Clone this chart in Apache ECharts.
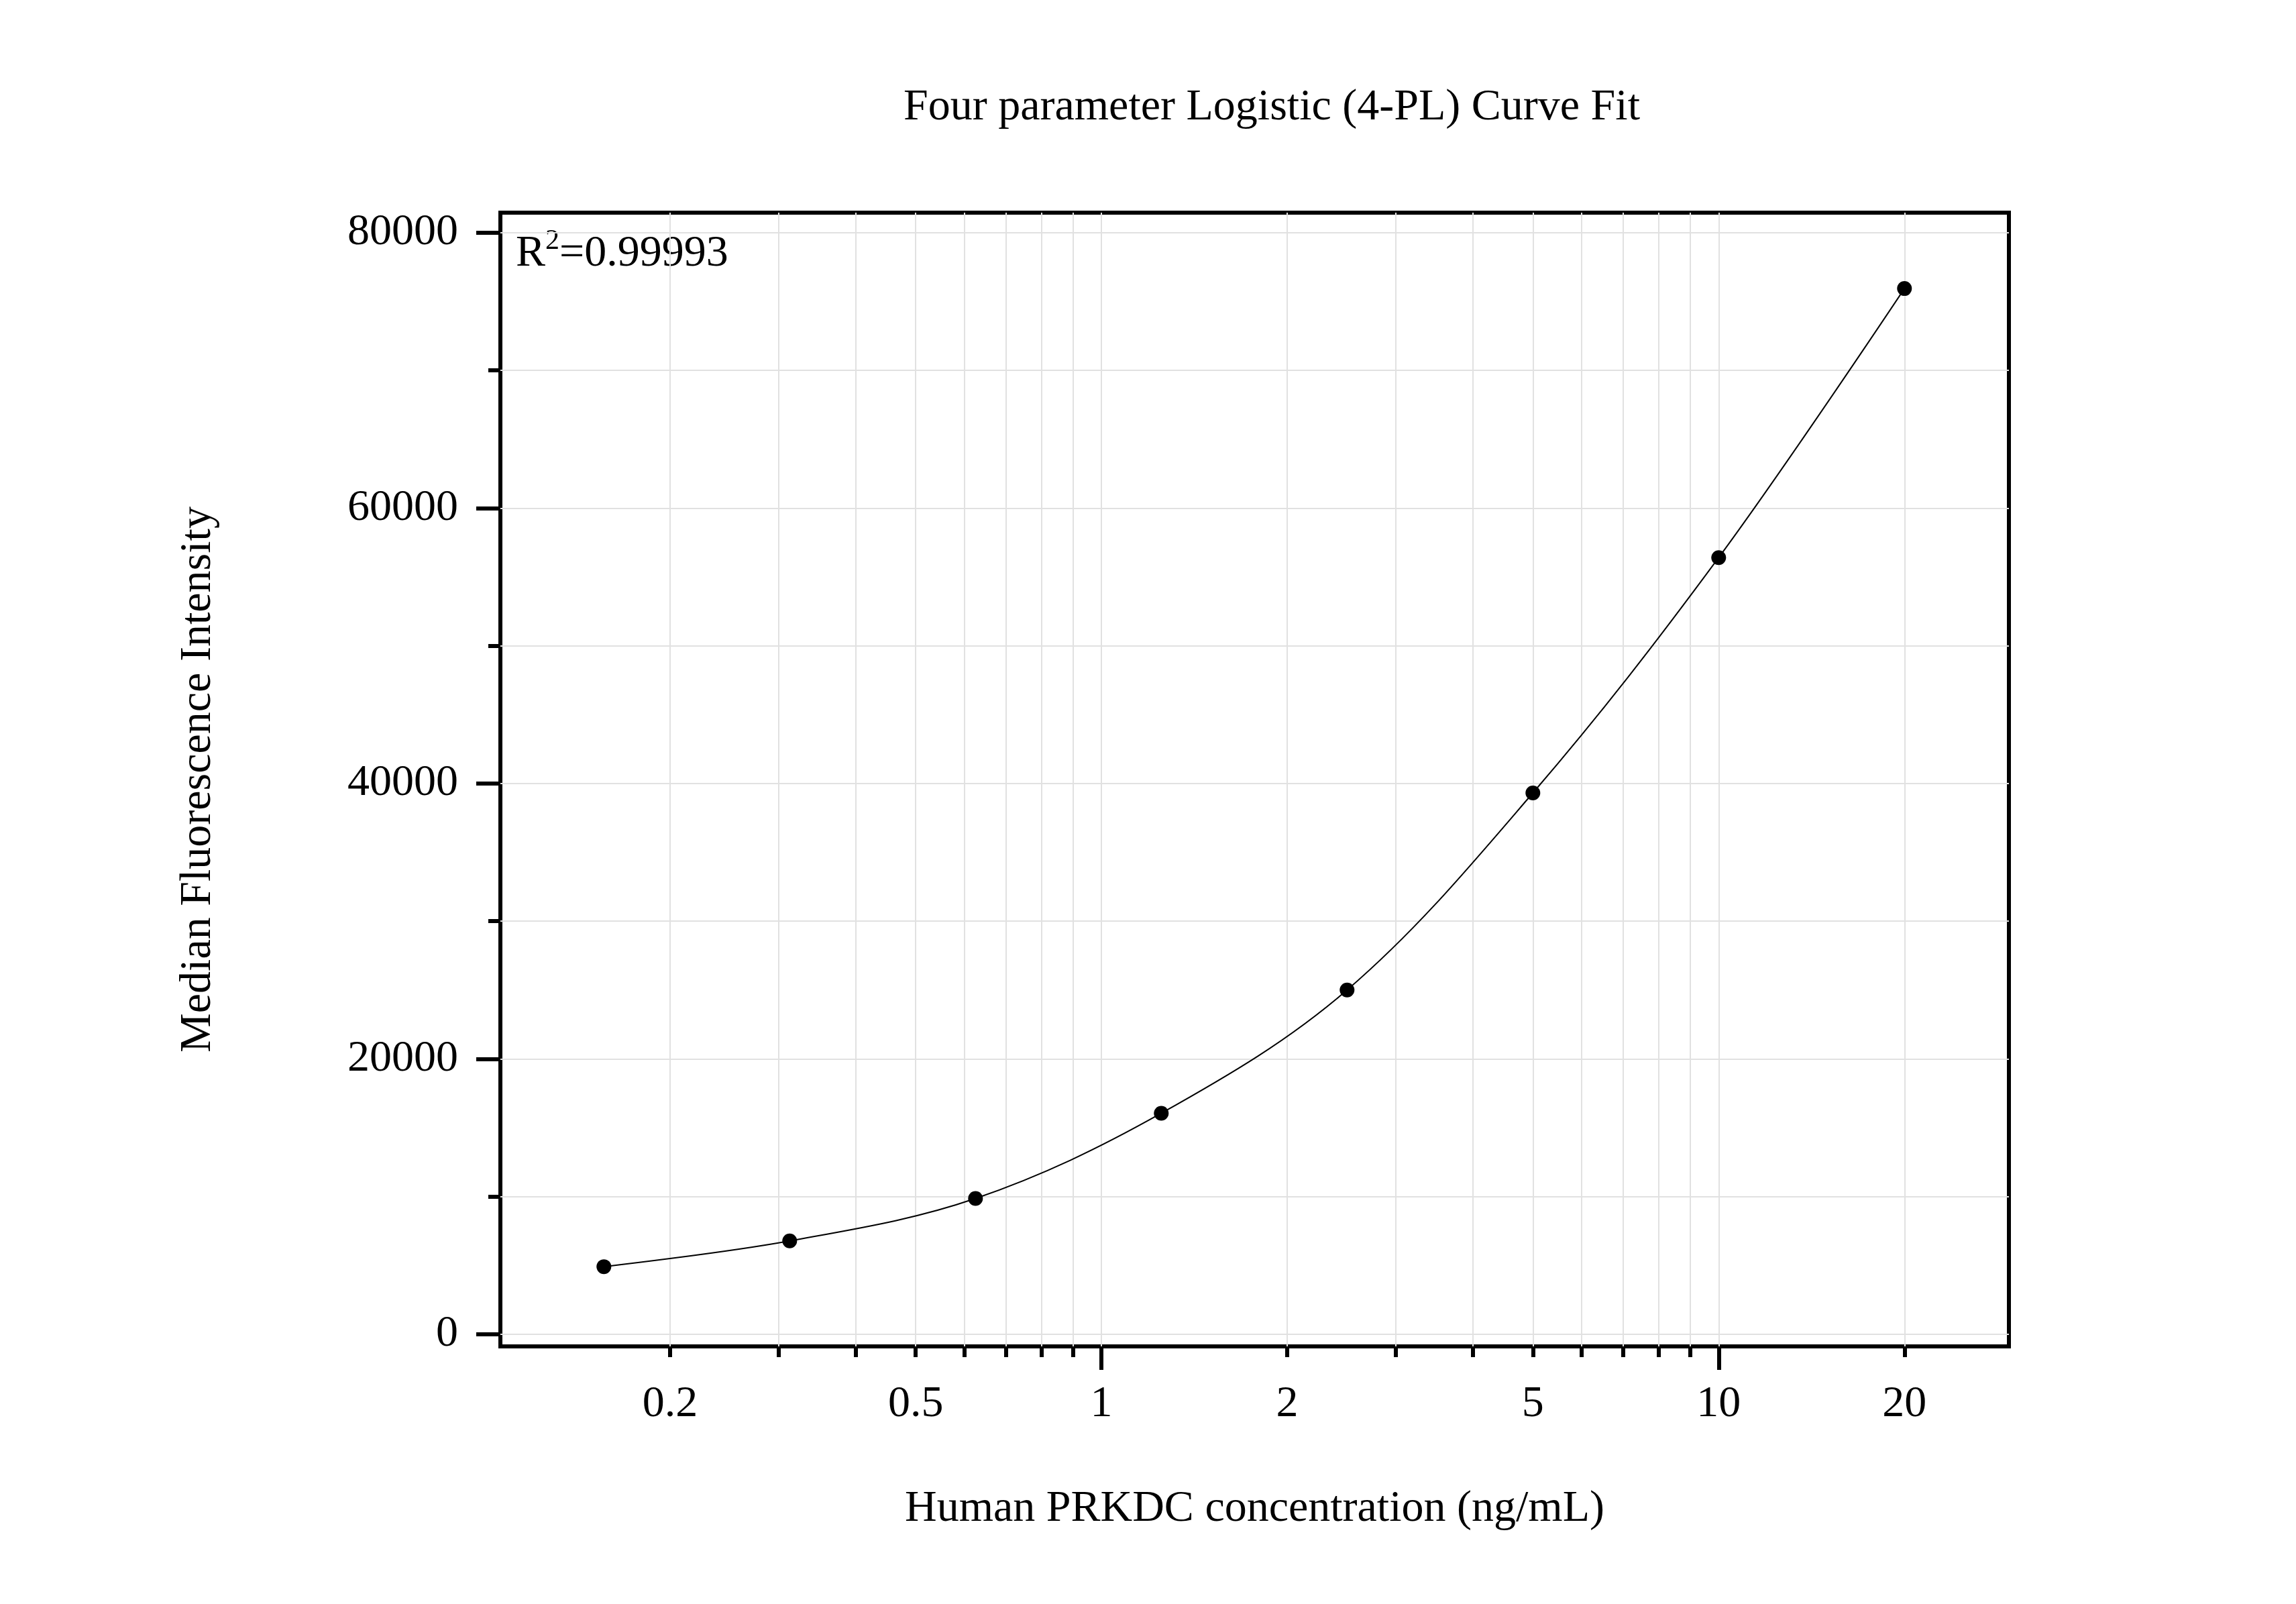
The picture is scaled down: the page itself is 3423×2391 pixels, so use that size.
<!DOCTYPE html>
<html>
<head>
<meta charset="utf-8">
<title>Four parameter Logistic (4-PL) Curve Fit</title>
<script src="https://cdn.jsdelivr.net/npm/echarts@6/dist/echarts.min.js"></script>
<style>
  html, body { margin: 0; padding: 0; background: #fff; }
  #chart { width: 3423px; height: 2391px; }
</style>
</head>
<body>
<div id="chart"></div>
<script>
// standards (ng/mL) and their median fluorescence
var concentrations = [0.15625, 0.3125, 0.625, 1.25, 2.5, 5, 10, 20];
var mfiValues = [4910, 6780, 9860, 16050, 25000, 39310, 56400, 75940];

// axis ticks / labels
var xTickLabels = [0.2, 0.5, 1, 2, 5, 10, 20];
var xMinorTicks = [0.2, 0.3, 0.4, 0.5, 0.6, 0.7, 0.8, 0.9, 2, 3, 4, 5, 6, 7, 8, 9, 20];
var xDecadeTicks = [1, 10];
var xRange = [0.1062, 29.53];
var yMajorTicks = [0, 20000, 40000, 60000, 80000];
var yMinorTicks = [10000, 30000, 50000, 70000];
var yRange = [-880, 81450];
var r2Parts = ['R', '2', '=0.99993'];

var FONT = "'Liberation Serif', 'Times New Roman', serif";
var FS = 66;

function lg(v) { return Math.log10(v); }

// x is drawn on log10 scale, labels turned back into concentrations
function xLabel(v) {
  var c = Math.pow(10, v);
  var best = xTickLabels[0];
  for (var i = 0; i < xTickLabels.length; i++) {
    if (Math.abs(xTickLabels[i] - c) < Math.abs(best - c)) best = xTickLabels[i];
  }
  return String(best);
}

var points = concentrations.map(function (c, i) { return [lg(c), mfiValues[i]]; });

var gridLine = { show: true, lineStyle: { color: '#e1e1e1', width: 2 } };
var tickStyle = { color: '#000', width: 6 };
var textBase = { fontFamily: FONT, fontSize: FS, color: '#000' };
var noLine = { show: false, onZero: false };

var chart = echarts.init(document.getElementById('chart'), null, { renderer: 'canvas' });

var option = {
  animation: false,
  backgroundColor: '#fff',
  title: {
    text: 'Four parameter Logistic (4-PL) Curve Fit',
    left: 1896,
    top: 161,
    padding: 0,
    textAlign: 'center',
    textVerticalAlign: 'middle',
    textStyle: { fontFamily: FONT, fontSize: FS, fontWeight: 'normal', color: '#000' }
  },
  grid: {
    left: 746, right: 428, top: 317, bottom: 384,
    show: true, borderColor: '#000', borderWidth: 6, backgroundColor: 'transparent'
  },
  xAxis: [{
    type: 'value',
    position: 'bottom',
    min: lg(xRange[0]), max: lg(xRange[1]),
    axisLine: noLine,
    axisTick: { show: true, length: 16, customValues: xMinorTicks.map(lg), lineStyle: tickStyle },
    axisLabel: Object.assign({ customValues: xTickLabels.map(lg), formatter: xLabel, margin: 87, verticalAlign: 'middle' }, textBase),
    splitLine: gridLine,
    name: 'Human PRKDC concentration (ng/mL)',
    nameLocation: 'middle',
    nameGap: 243,
    nameTextStyle: Object.assign({ verticalAlign: 'middle' }, textBase)
  }, {
    type: 'value',
    position: 'bottom',
    min: lg(xRange[0]), max: lg(xRange[1]),
    axisLine: noLine,
    axisTick: { show: true, length: 35, customValues: xDecadeTicks.map(lg), lineStyle: tickStyle },
    axisLabel: { show: false },
    splitLine: gridLine
  }],
  yAxis: [{
    type: 'value',
    position: 'left',
    min: yRange[0], max: yRange[1],
    axisLine: noLine,
    axisTick: { show: true, length: 36, customValues: yMajorTicks, lineStyle: tickStyle },
    axisLabel: Object.assign({ customValues: yMajorTicks, margin: 63, formatter: function (v) { return String(v); } }, textBase),
    splitLine: gridLine,
    name: 'Median Fluorescence Intensity',
    nameLocation: 'middle',
    nameGap: 450,
    nameRotate: 90,
    nameTextStyle: Object.assign({ verticalAlign: 'middle' }, textBase)
  }, {
    type: 'value',
    position: 'left',
    min: yRange[0], max: yRange[1],
    axisLine: noLine,
    axisTick: { show: true, length: 18, customValues: yMinorTicks, lineStyle: tickStyle },
    axisLabel: { show: false },
    splitLine: gridLine
  }],
  graphic: [{
    type: 'group',
    z: 10,
    children: [{
      type: 'text', x: 769, y: 379,
      style: { text: r2Parts[0], font: FS + 'px ' + FONT, fill: '#000', align: 'left', verticalAlign: 'middle' }
    }, {
      type: 'text', x: 813, y: 360,
      style: { text: r2Parts[1], font: '42px ' + FONT, fill: '#000', align: 'left', verticalAlign: 'middle' }
    }, {
      type: 'text', x: 834, y: 379,
      style: { text: r2Parts[2], font: FS + 'px ' + FONT, fill: '#000', align: 'left', verticalAlign: 'middle' }
    }]
  }],
  series: [{
    name: '4-PL fit',
    type: 'line',
    data: points,
    smooth: 0.35,
    showSymbol: false,
    lineStyle: { color: '#000', width: 2 },
    z: 2
  }, {
    name: 'Standards',
    type: 'scatter',
    data: points,
    symbol: 'circle',
    symbolSize: 22,
    itemStyle: { color: '#000', opacity: 1 },
    z: 3
  }]
};

chart.setOption(option);
</script>
</body>
</html>
